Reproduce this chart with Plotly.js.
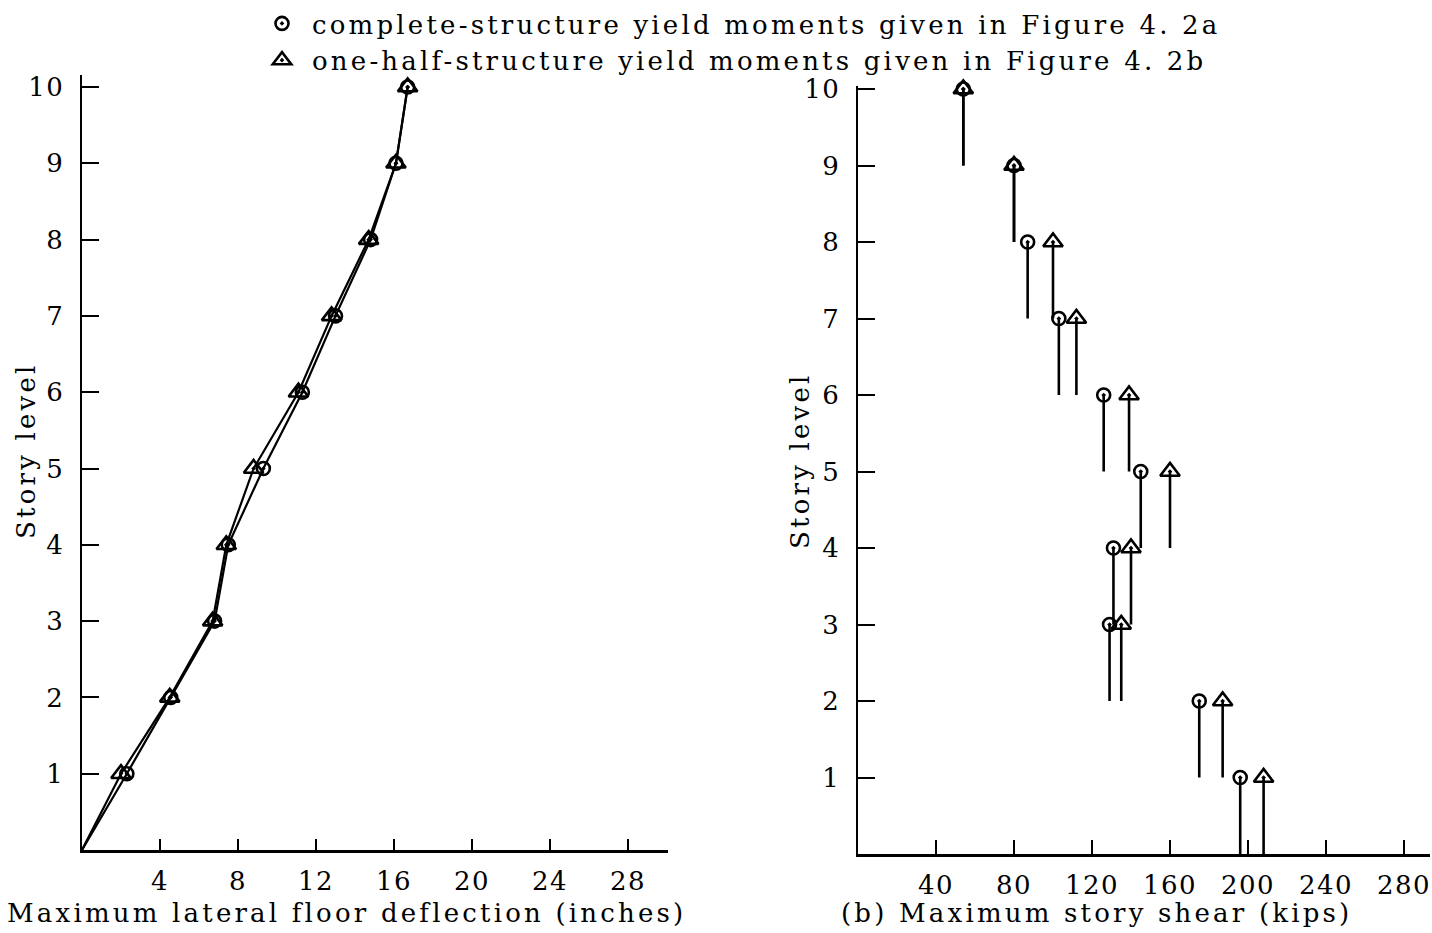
<!DOCTYPE html>
<html>
<head>
<meta charset="utf-8">
<script src="https://cdn.plot.ly/plotly-3.0.1.min.js"></script>
<style>
html,body{margin:0;padding:0;background:#fff;}
#chart{width:1432px;height:933px;}
text{letter-spacing:3.2px;}
.xtick text,.ytick text,.x2tick text,.y2tick text{letter-spacing:1.5px;}
</style>
</head>
<body>
<div id="chart"></div>
<script>
// ---- data ----
const storyLevels = [1, 2, 3, 4, 5, 6, 7, 8, 9, 10];
// (a) maximum lateral floor deflection (inches)
const deflComplete = [2.3, 4.55, 6.8, 7.5, 9.3, 11.3, 13.0, 14.8, 16.1, 16.7];
const deflHalf     = [2.0, 4.5, 6.7, 7.4, 8.8, 11.1, 12.8, 14.7, 16.1, 16.7];
// (b) maximum story shear (kips)
const shearComplete = [196, 175, 129, 131, 145, 126, 103, 87, 80, 54];
const shearHalf     = [208, 187, 135, 140, 160, 139, 112, 100, 80, 54];
// tick labels
const deflTicks = [4, 8, 12, 16, 20, 24, 28];
const shearTicks = [40, 80, 120, 160, 200, 240, 280];
const levelTicks = [1, 2, 3, 4, 5, 6, 7, 8, 9, 10];
const legendNames = [
  "complete-structure yield moments given in Figure 4. 2a",
  "one-half-structure yield moments given in Figure 4. 2b"
];

const FONT = "DejaVu Serif, Liberation Serif, serif";
const FS = 26;
const W = 1432, H = 933;
const px = v => v / W;
const py = v => 1 - v / H;

function stems(vals) {
  const xs = [], ys = [];
  vals.forEach((v, i) => {
    xs.push(v, v, null);
    ys.push(storyLevels[i] - 1, storyLevels[i], null);
  });
  return {xs, ys};
}
const sc = stems(shearComplete), sh = stems(shearHalf);

const lineStyle = {color: "#000", width: 2.2};
const circMarker = {symbol: "circle-open-dot", size: 13, color: "#000", line: {color: "#000", width: 2.6}};
const triMarker = {symbol: "triangle-up-open-dot", size: 17, color: "#000", line: {color: "#000", width: 2.6}};

const traces = [
  // left: lines from the base
  {x: [0].concat(deflComplete), y: [0].concat(storyLevels), mode: "lines", line: lineStyle,
   xaxis: "x", yaxis: "y", showlegend: false, hoverinfo: "skip", cliponaxis: false},
  {x: [0].concat(deflHalf), y: [0].concat(storyLevels), mode: "lines", line: lineStyle,
   xaxis: "x", yaxis: "y", showlegend: false, hoverinfo: "skip", cliponaxis: false},
  {x: deflComplete, y: storyLevels, mode: "markers", marker: circMarker,
   xaxis: "x", yaxis: "y", showlegend: false, cliponaxis: false},
  {x: deflHalf, y: storyLevels, mode: "markers", marker: triMarker,
   xaxis: "x", yaxis: "y", showlegend: false, cliponaxis: false},
  // right: stems
  {x: sc.xs, y: sc.ys, mode: "lines", line: {color: "#000", width: 2.6},
   xaxis: "x2", yaxis: "y2", showlegend: false, hoverinfo: "skip", cliponaxis: false},
  {x: sh.xs, y: sh.ys, mode: "lines", line: {color: "#000", width: 2.6},
   xaxis: "x2", yaxis: "y2", showlegend: false, hoverinfo: "skip", cliponaxis: false},
  {x: shearComplete, y: storyLevels, mode: "markers", marker: circMarker, name: legendNames[0],
   xaxis: "x2", yaxis: "y2", showlegend: true, cliponaxis: false},
  {x: shearHalf, y: storyLevels, mode: "markers", marker: triMarker, name: legendNames[1],
   xaxis: "x2", yaxis: "y2", showlegend: true, cliponaxis: false}
];

const axisCommon = {
  showgrid: false, zeroline: false, showline: true, linecolor: "#000", linewidth: 2.5,
  ticks: "inside", tickcolor: "#000", tickwidth: 2,
  tickfont: {family: FONT, size: FS, color: "#000"}, mirror: false, fixedrange: true
};

const layout = {
  width: W, height: H,
  margin: {l: 0, r: 0, t: 0, b: 0},
  paper_bgcolor: "#fff", plot_bgcolor: "#fff",
  showlegend: true,
  legend: {x: px(252), y: 1, xanchor: "left", yanchor: "top", itemwidth: 50,
           font: {family: FONT, size: FS, color: "#000"}, bgcolor: "rgba(0,0,0,0)",
           traceorder: "normal", tracegroupgap: 0},
  xaxis: Object.assign({}, axisCommon, {domain: [px(82), px(668)], range: [0, (668 - 82) / 19.5],
    anchor: "y", tickmode: "array", tickvals: deflTicks, ticklen: 11, ticklabelstandoff: 6}),
  yaxis: Object.assign({}, axisCommon, {domain: [py(850), py(75)], range: [0, (850 - 75) / 76.3],
    anchor: "x", tickmode: "array", tickvals: levelTicks, ticklen: 17, ticklabelstandoff: 10}),
  xaxis2: Object.assign({}, axisCommon, {domain: [px(858), px(1430)], range: [0, (1430 - 858) / 1.95],
    anchor: "y2", tickmode: "array", tickvals: shearTicks, ticklen: 14, ticklabelstandoff: 6}),
  yaxis2: Object.assign({}, axisCommon, {domain: [py(854), py(86)], range: [0, (854 - 86) / 76.5],
    anchor: "x2", tickmode: "array", tickvals: levelTicks, ticklen: 17, ticklabelstandoff: 10}),
  annotations: [
    {text: "Maximum lateral floor deflection (inches)", xref: "paper", yref: "paper",
     x: px(346), y: py(913), xanchor: "center", yanchor: "middle", showarrow: false,
     font: {family: FONT, size: FS, color: "#000"}},
    {text: "(b) Maximum story shear (kips)", xref: "paper", yref: "paper",
     x: px(1096), y: py(913), xanchor: "center", yanchor: "middle", showarrow: false,
     font: {family: FONT, size: FS, color: "#000"}},
    {text: "Story level", xref: "paper", yref: "paper", textangle: -90,
     x: px(26), y: py(451), xanchor: "center", yanchor: "middle", showarrow: false,
     font: {family: FONT, size: FS, color: "#000"}},
    {text: "Story level", xref: "paper", yref: "paper", textangle: -90,
     x: px(800), y: py(461), xanchor: "center", yanchor: "middle", showarrow: false,
     font: {family: FONT, size: FS, color: "#000"}}
  ]
};

Plotly.newPlot("chart", traces, layout, {displayModeBar: false, staticPlot: true});
</script>
</body>
</html>
